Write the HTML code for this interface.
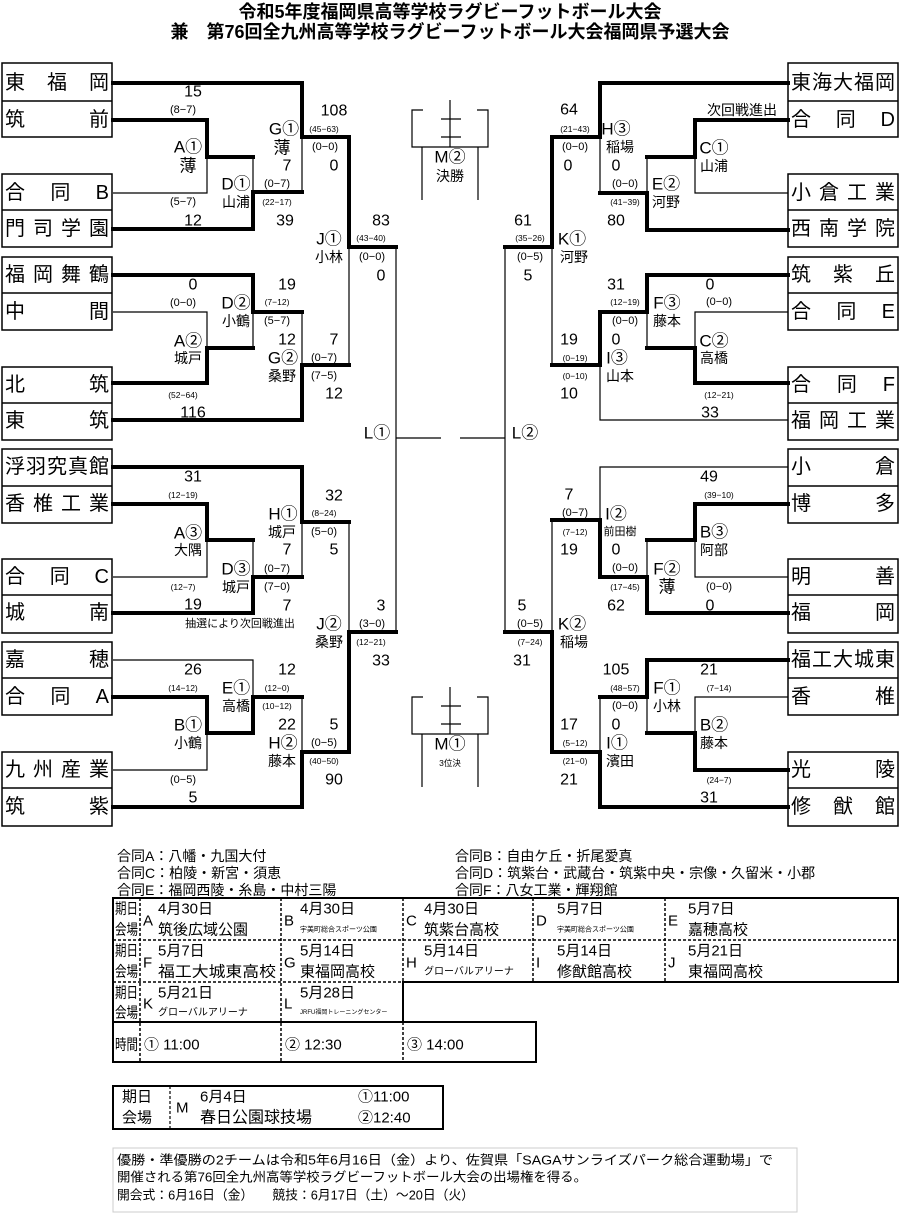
<!DOCTYPE html>
<html><head><meta charset="utf-8"><style>
html,body{margin:0;padding:0;background:#fff;}
svg{display:block;font-family:"Liberation Sans","Noto Sans CJK JP",sans-serif;}
.k{stroke:#000;stroke-width:4;fill:none;stroke-linejoin:miter;stroke-linecap:square}
.h{stroke:#000;stroke-width:1.2;fill:none}
text{fill:#000;dominant-baseline:central;text-anchor:middle}
.s{font-size:16px}
.p{font-size:11px}
.t{font-size:8.5px}
.n{font-size:17px}
.m{font-size:14px}
.b{font-size:20px;text-anchor:start}
.l{text-anchor:start}
</style></head><body>
<svg width="900" height="1215" viewBox="0 0 900 1215" xmlns="http://www.w3.org/2000/svg">
<text x="450" y="12" style="font-size:18px;font-weight:bold">令和5年度福岡県高等学校ラグビーフットボール大会</text>
<text x="450" y="32" style="font-size:18px;font-weight:bold">兼　第76回全九州高等学校ラグビーフットボール大会福岡県予選大会</text>

<g fill="#fff" stroke="#000" stroke-width="1.5">
<rect x="2" y="63" width="110" height="74"/><line x1="2" y1="101" x2="112" y2="101"/>
<rect x="2" y="174" width="110" height="73"/><line x1="2" y1="210" x2="112" y2="210"/>
<rect x="2" y="257" width="110" height="73"/><line x1="2" y1="293" x2="112" y2="293"/>
<rect x="2" y="367" width="110" height="73"/><line x1="2" y1="403" x2="112" y2="403"/>
<rect x="2" y="449" width="110" height="74"/><line x1="2" y1="486" x2="112" y2="486"/>
<rect x="2" y="559" width="110" height="74"/><line x1="2" y1="595" x2="112" y2="595"/>
<rect x="2" y="642" width="110" height="73"/><line x1="2" y1="678" x2="112" y2="678"/>
<rect x="2" y="752" width="110" height="74"/><line x1="2" y1="788" x2="112" y2="788"/>
<rect x="788" y="63" width="110" height="74"/><line x1="788" y1="101" x2="898" y2="101"/>
<rect x="788" y="174" width="110" height="73"/><line x1="788" y1="210" x2="898" y2="210"/>
<rect x="788" y="257" width="110" height="73"/><line x1="788" y1="293" x2="898" y2="293"/>
<rect x="788" y="367" width="110" height="73"/><line x1="788" y1="403" x2="898" y2="403"/>
<rect x="788" y="449" width="110" height="74"/><line x1="788" y1="486" x2="898" y2="486"/>
<rect x="788" y="559" width="110" height="74"/><line x1="788" y1="595" x2="898" y2="595"/>
<rect x="788" y="642" width="110" height="73"/><line x1="788" y1="678" x2="898" y2="678"/>
<rect x="788" y="752" width="110" height="74"/><line x1="788" y1="788" x2="898" y2="788"/>
</g>
<g>
<text class="b" x="5" y="83" textLength="104" lengthAdjust="spacing">東福岡</text>
<text class="b" x="5" y="120" textLength="104" lengthAdjust="spacing">筑前</text>
<text class="b" x="5" y="193" textLength="104" lengthAdjust="spacing">合同B</text>
<text class="b" x="5" y="229" textLength="104" lengthAdjust="spacing">門司学園</text>
<text class="b" x="5" y="275" textLength="104" lengthAdjust="spacing">福岡舞鶴</text>
<text class="b" x="5" y="312" textLength="104" lengthAdjust="spacing">中間</text>
<text class="b" x="5" y="385" textLength="104" lengthAdjust="spacing">北筑</text>
<text class="b" x="5" y="421" textLength="104" lengthAdjust="spacing">東筑</text>
<text class="b" x="5" y="467" textLength="104" lengthAdjust="spacing">浮羽究真館</text>
<text class="b" x="5" y="504" textLength="104" lengthAdjust="spacing">香椎工業</text>
<text class="b" x="5" y="577" textLength="104" lengthAdjust="spacing">合同C</text>
<text class="b" x="5" y="613" textLength="104" lengthAdjust="spacing">城南</text>
<text class="b" x="5" y="660" textLength="104" lengthAdjust="spacing">嘉穂</text>
<text class="b" x="5" y="697" textLength="104" lengthAdjust="spacing">合同A</text>
<text class="b" x="5" y="770" textLength="104" lengthAdjust="spacing">九州産業</text>
<text class="b" x="5" y="807" textLength="104" lengthAdjust="spacing">筑紫</text>
<text class="b" x="791" y="83" textLength="104" lengthAdjust="spacing">東海大福岡</text>
<text class="b" x="791" y="120" textLength="104" lengthAdjust="spacing">合同D</text>
<text class="b" x="791" y="193" textLength="104" lengthAdjust="spacing">小倉工業</text>
<text class="b" x="791" y="229" textLength="104" lengthAdjust="spacing">西南学院</text>
<text class="b" x="791" y="275" textLength="104" lengthAdjust="spacing">筑紫丘</text>
<text class="b" x="791" y="312" textLength="104" lengthAdjust="spacing">合同E</text>
<text class="b" x="791" y="385" textLength="104" lengthAdjust="spacing">合同F</text>
<text class="b" x="791" y="421" textLength="104" lengthAdjust="spacing">福岡工業</text>
<text class="b" x="791" y="467" textLength="104" lengthAdjust="spacing">小倉</text>
<text class="b" x="791" y="504" textLength="104" lengthAdjust="spacing">博多</text>
<text class="b" x="791" y="577" textLength="104" lengthAdjust="spacing">明善</text>
<text class="b" x="791" y="613" textLength="104" lengthAdjust="spacing">福岡</text>
<text class="b" x="791" y="660" textLength="104" lengthAdjust="spacing">福工大城東</text>
<text class="b" x="791" y="697" textLength="104" lengthAdjust="spacing">香椎</text>
<text class="b" x="791" y="770" textLength="104" lengthAdjust="spacing">光陵</text>
<text class="b" x="791" y="807" textLength="104" lengthAdjust="spacing">修猷館</text>
</g>

<path class="h" d="M113 193H207V157 M253 157V192 M302 137V192 M349 247V365 M396 247V632 M396 438H441
M253 312V348 M113 312H207V348 M302 312V365
M302 522V577 M113 577H207V540 M253 540V577 M349 522V632 M113 660H253V697 M113 770H207V733 M302 697V752
M600 137V193 M647 157V193 M695 157V193H788 M552 247V365 M600 365V420H788 M647 312V348 M695 348V312H788 M505 247V632 M460 438H505
M788 467H600V520 M647 577V540 M695 540V577H788 M552 520V632 M600 752V697 M647 697V733 M695 733V697H788"/>
<path class="k" d="M113 83H302V137H349V247H396 M113 120H207V157H253 M253 192H302 M113 229H253V192
M113 275H253V312H302 M207 348H253 M113 383H207V348 M302 365H349 M113 420H302V365
M113 467H302V522H349 M253 577H302 M113 504H207V540H253 M113 613H253V577
M396 632H349V752H302 M253 697H302 M113 697H207V733H253V697 M113 807H302V752
M788 83H600V137H552V247H505 M600 193H647V230H788 M647 157H695V120H788
M552 365H600V312H647V275H788 M647 348H695V383H788
M552 520H600V577H647 M647 540H695V504H788 M647 577V613H788
M505 632H552V752H600V807H788 M600 697H647V660H788 M647 733H695V770H788"/>

<path class="h" d="M423 110H412V147H488V110H477 M450 100V147 M441 119H461 M441 137H461 M422 147V200 M478 147V200"/>
<path class="h" d="M423 697H412V734H488V697H477 M450 687V734 M441 706H461 M441 724H461 M422 734V787 M478 734V787"/>
<text class="n" x="450" y="157">M②</text><text class="m" x="450" y="176">決勝</text>
<text class="n" x="450" y="744">M①</text><text class="t" x="450" y="763">3位決</text>

<text class="s" x="193" y="92">15</text><text class="p" x="183" y="110">(8−7)</text>
<text class="n" x="188" y="147">A①</text><text class="n" x="188" y="166">薄</text>
<text class="p" x="183" y="202">(5−7)</text><text class="s" x="193" y="221">12</text>
<text class="s" x="334" y="111">108</text><text class="t" x="324" y="129">(45−63)</text>
<text class="n" x="284" y="129">G①</text><text class="n" x="282" y="148">薄</text>
<text class="p" x="325" y="147">(0−0)</text><text class="s" x="287" y="166">7</text><text class="s" x="334" y="166">0</text>
<text class="n" x="236" y="184">D①</text><text class="p" x="277" y="184">(0−7)</text>
<text class="m" x="236" y="202">山浦</text><text class="t" x="277" y="202">(22−17)</text><text class="s" x="285" y="221">39</text>
<text class="s" x="381" y="221">83</text><text class="t" x="371" y="238">(43−40)</text>
<text class="n" x="329" y="239">J①</text><text class="m" x="329" y="257">小林</text>
<text class="p" x="372" y="257">(0−0)</text><text class="s" x="381" y="276">0</text>
<text class="s" x="193" y="285">0</text><text class="p" x="183" y="303">(0−0)</text>
<text class="n" x="188" y="341">A②</text><text class="m" x="188" y="358">城戸</text>
<text class="t" x="183" y="395">(52−64)</text><text class="s" x="193" y="413">116</text>
<text class="s" x="287" y="285">19</text><text class="n" x="236" y="303">D②</text>
<text class="t" x="277" y="302">(7−12)</text><text class="m" x="236" y="321">小鶴</text>
<text class="p" x="277" y="321">(5−7)</text><text class="s" x="287" y="340">12</text><text class="s" x="334" y="340">7</text>
<text class="n" x="283" y="358">G②</text><text class="p" x="324" y="358">(0−7)</text>
<text class="m" x="282" y="376">桑野</text><text class="p" x="324" y="376">(7−5)</text><text class="s" x="334" y="394">12</text>
<text class="n" x="377" y="433">L①</text>

<text class="s" x="569" y="110">64</text><text class="t" x="575" y="129">(21−43)</text>
<text class="n" x="616" y="129">H③</text><text class="m" x="620" y="147">稲場</text>
<text class="p" x="575" y="147">(0−0)</text><text class="s" x="568" y="166">0</text><text class="s" x="616" y="166">0</text>
<text class="p" x="625" y="184">(0−0)</text><text class="n" x="666" y="184">E②</text>
<text class="t" x="625" y="202">(41−39)</text><text class="m" x="666" y="202">河野</text><text class="s" x="616" y="221">80</text>
<text class="m" x="742" y="110">次回戦進出</text>
<text class="n" x="714" y="148">C①</text><text class="m" x="714" y="166">山浦</text>
<text class="s" x="523" y="221">61</text><text class="t" x="530" y="238">(35−26)</text>
<text class="n" x="572" y="239">K①</text><text class="m" x="574" y="257">河野</text>
<text class="p" x="530" y="257">(0−5)</text><text class="s" x="528" y="276">5</text>
<text class="s" x="616" y="285">31</text><text class="s" x="710" y="285">0</text>
<text class="t" x="625" y="302">(12−19)</text><text class="p" x="719" y="302">(0−0)</text>
<text class="n" x="667" y="303">F③</text><text class="m" x="667" y="321">藤本</text>
<text class="p" x="625" y="321">(0−0)</text><text class="s" x="569" y="340">19</text><text class="s" x="616" y="340">0</text>
<text class="n" x="714" y="341">C②</text><text class="t" x="575" y="358">(0−19)</text>
<text class="n" x="617" y="358">I③</text><text class="m" x="714" y="358">高橋</text>
<text class="t" x="575" y="376">(0−10)</text><text class="m" x="620" y="376">山本</text>
<text class="s" x="569" y="394">10</text><text class="t" x="719" y="395">(12−21)</text><text class="s" x="710" y="413">33</text>
<text class="n" x="525" y="433">L②</text>

<text class="s" x="193" y="477">31</text><text class="t" x="183" y="495">(12−19)</text>
<text class="n" x="188" y="533">A③</text><text class="m" x="188" y="550">大隅</text>
<text class="t" x="183" y="587">(12−7)</text><text class="s" x="193" y="605">19</text>
<text class="p" x="240" y="624">抽選により次回戦進出</text>
<text class="s" x="334" y="496">32</text><text class="n" x="283" y="514">H①</text>
<text class="t" x="324" y="513">(8−24)</text><text class="m" x="282" y="532">城戸</text>
<text class="p" x="324" y="532">(5−0)</text><text class="s" x="287" y="550">7</text><text class="s" x="334" y="550">5</text>
<text class="n" x="236" y="569">D③</text><text class="p" x="277" y="569">(0−7)</text>
<text class="m" x="236" y="587">城戸</text><text class="p" x="277" y="587">(7−0)</text><text class="s" x="287" y="606">7</text>
<text class="s" x="381" y="606">3</text><text class="p" x="372" y="624">(3−0)</text>
<text class="n" x="329" y="624">J②</text><text class="m" x="329" y="642">桑野</text>
<text class="t" x="371" y="642">(12−21)</text><text class="s" x="381" y="661">33</text>
<text class="s" x="193" y="670">26</text><text class="t" x="183" y="688">(14−12)</text>
<text class="n" x="236" y="688">E①</text><text class="m" x="236" y="706">高橋</text>
<text class="s" x="287" y="670">12</text><text class="t" x="277" y="688">(12−0)</text>
<text class="t" x="277" y="706">(10−12)</text><text class="s" x="287" y="725">22</text><text class="s" x="334" y="725">5</text>
<text class="n" x="188" y="725">B①</text><text class="m" x="188" y="743">小鶴</text>
<text class="n" x="283" y="743">H②</text><text class="p" x="324" y="743">(0−5)</text>
<text class="m" x="282" y="761">藤本</text><text class="t" x="324" y="761">(40−50)</text>
<text class="p" x="183" y="780">(0−5)</text><text class="s" x="334" y="780">90</text><text class="s" x="193" y="798">5</text>

<text class="s" x="709" y="477">49</text><text class="t" x="719" y="495">(39−10)</text>
<text class="s" x="569" y="495">7</text><text class="p" x="575" y="513">(0−7)</text>
<text class="n" x="616" y="514">I②</text><text class="t" x="575" y="532">(7−12)</text>
<text class="p" x="620" y="532">前田樹</text>
<text class="n" x="714" y="532">B③</text><text class="m" x="714" y="550">阿部</text>
<text class="s" x="569" y="550">19</text><text class="s" x="616" y="550">0</text>
<text class="p" x="625" y="568">(0−0)</text><text class="n" x="667" y="569">F②</text>
<text class="t" x="625" y="587">(17−45)</text><text class="n" x="667" y="587">薄</text>
<text class="p" x="719" y="587">(0−0)</text><text class="s" x="616" y="606">62</text><text class="s" x="710" y="606">0</text>
<text class="s" x="522" y="606">5</text><text class="p" x="530" y="624">(0−5)</text>
<text class="n" x="572" y="624">K②</text><text class="m" x="574" y="642">稲場</text>
<text class="t" x="530" y="642">(7−24)</text><text class="s" x="522" y="661">31</text>
<text class="s" x="616" y="670">105</text><text class="s" x="709" y="670">21</text>
<text class="t" x="625" y="688">(48−57)</text><text class="t" x="719" y="688">(7−14)</text>
<text class="n" x="667" y="688">F①</text><text class="m" x="667" y="706">小林</text>
<text class="p" x="625" y="706">(0−0)</text><text class="s" x="569" y="725">17</text><text class="s" x="616" y="725">0</text>
<text class="n" x="714" y="725">B②</text><text class="m" x="714" y="743">藤本</text>
<text class="t" x="575" y="743">(5−12)</text><text class="n" x="617" y="743">I①</text>
<text class="t" x="575" y="761">(21−0)</text><text class="m" x="620" y="761">濱田</text>
<text class="t" x="719" y="780">(24−7)</text><text class="s" x="569" y="780">21</text><text class="s" x="709" y="798">31</text>

<text class="m l" x="117" y="856">合同A：八幡・九国大付</text>
<text class="m l" x="117" y="873">合同C：柏陵・新宮・須恵</text>
<text class="m l" x="117" y="890">合同E：福岡西陵・糸島・中村三陽</text>
<text class="m l" x="455" y="856">合同B：自由ケ丘・折尾愛真</text>
<text class="m l" x="455" y="873">合同D：筑紫台・武蔵台・筑紫中央・宗像・久留米・小郡</text>
<text class="m l" x="455" y="890">合同F：八女工業・輝翔館</text>

<g stroke="#000" fill="none">
<path stroke-width="2" d="M113 898H898V982H403V1022H113Z"/>
<path stroke-width="1.5" stroke-dasharray="3,2" d="M113 940H898 M113 982H403 M140 898V1062 M281 898V1062 M403 898V982 M403 1022V1062 M533 898V982 M665 898V982"/>
<path stroke-width="2" d="M113 1022H536V1062H113Z"/>
<path stroke-width="2" d="M113 1086H443V1129H113Z"/>
<path stroke-width="1.2" stroke-dasharray="3,2" d="M170 1086V1129"/>
<rect x="113" y="1148" width="684" height="64" stroke="#ccc" stroke-width="1"/>
</g>
<g style="font-size:15px">
<text class="l" x="115" y="909" textLength="23" lengthAdjust="spacingAndGlyphs">期日</text><text class="l" x="115" y="930" textLength="23" lengthAdjust="spacingAndGlyphs">会場</text>
<text class="l" x="115" y="951" textLength="23" lengthAdjust="spacingAndGlyphs">期日</text><text class="l" x="115" y="972" textLength="23" lengthAdjust="spacingAndGlyphs">会場</text>
<text class="l" x="115" y="993" textLength="23" lengthAdjust="spacingAndGlyphs">期日</text><text class="l" x="115" y="1013" textLength="23" lengthAdjust="spacingAndGlyphs">会場</text>
<text class="l" x="115" y="1045" textLength="23" lengthAdjust="spacingAndGlyphs">時間</text>
<text class="l" x="143" y="921">A</text><text class="l" x="158" y="909">4月30日</text><text class="l" x="158" y="930">筑後広域公園</text>
<text class="l" x="284" y="921">B</text><text class="l" x="300" y="909">4月30日</text><text class="l" x="300" y="930" style="font-size:7px">宇美町総合スポーツ公園</text>
<text class="l" x="406" y="921">C</text><text class="l" x="424" y="909">4月30日</text><text class="l" x="424" y="930">筑紫台高校</text>
<text class="l" x="536" y="921">D</text><text class="l" x="557" y="909">5月7日</text><text class="l" x="557" y="930" style="font-size:7px">宇美町総合スポーツ公園</text>
<text class="l" x="668" y="921">E</text><text class="l" x="688" y="909">5月7日</text><text class="l" x="688" y="930">嘉穂高校</text>
<text class="l" x="143" y="963">F</text><text class="l" x="158" y="951">5月7日</text><text class="l" x="158" y="972" textLength="118" lengthAdjust="spacingAndGlyphs">福工大城東高校</text>
<text class="l" x="284" y="963">G</text><text class="l" x="300" y="951">5月14日</text><text class="l" x="300" y="972">東福岡高校</text>
<text class="l" x="406" y="963">H</text><text class="l" x="424" y="951">5月14日</text><text class="l" x="424" y="972" style="font-size:10px">グローバルアリーナ</text>
<text class="l" x="536" y="963">I</text><text class="l" x="557" y="951">5月14日</text><text class="l" x="557" y="972">修猷館高校</text>
<text class="l" x="668" y="963">J</text><text class="l" x="688" y="951">5月21日</text><text class="l" x="688" y="972">東福岡高校</text>
<text class="l" x="143" y="1004">K</text><text class="l" x="158" y="993">5月21日</text><text class="l" x="158" y="1013" style="font-size:10px">グローバルアリーナ</text>
<text class="l" x="284" y="1004">L</text><text class="l" x="300" y="993">5月28日</text><text class="l" x="300" y="1013" style="font-size:6px">JRFU福岡トレーニングセンター</text>
<text class="l" x="144" y="1045">① 11:00</text><text class="l" x="285" y="1045">② 12:30</text><text class="l" x="407" y="1045">③ 14:00</text>
<text class="l" x="122" y="1097">期日</text><text class="l" x="122" y="1118">会場</text>
<text class="l" x="176" y="1108">M</text>
<text class="l" x="200" y="1097">6月4日</text><text class="l" x="200" y="1118" style="font-size:16px">春日公園球技場</text>
<text class="l" x="358" y="1097">①11:00</text><text class="l" x="358" y="1118">②12:40</text>
</g>
<g style="font-size:13px">
<text class="l" x="117" y="1160" textLength="656" lengthAdjust="spacingAndGlyphs">優勝・準優勝の2チームは令和5年6月16日（金）より、佐賀県「SAGAサンライズパーク総合運動場」で</text>
<text class="l" x="117" y="1177" textLength="470" lengthAdjust="spacingAndGlyphs">開催される第76回全九州高等学校ラグビーフットボール大会の出場権を得る。</text>
<text class="l" x="117" y="1195" textLength="357" lengthAdjust="spacingAndGlyphs">開会式：6月16日（金）　　競技：6月17日（土）～20日（火）</text>
</g>
</svg>
</body></html>
